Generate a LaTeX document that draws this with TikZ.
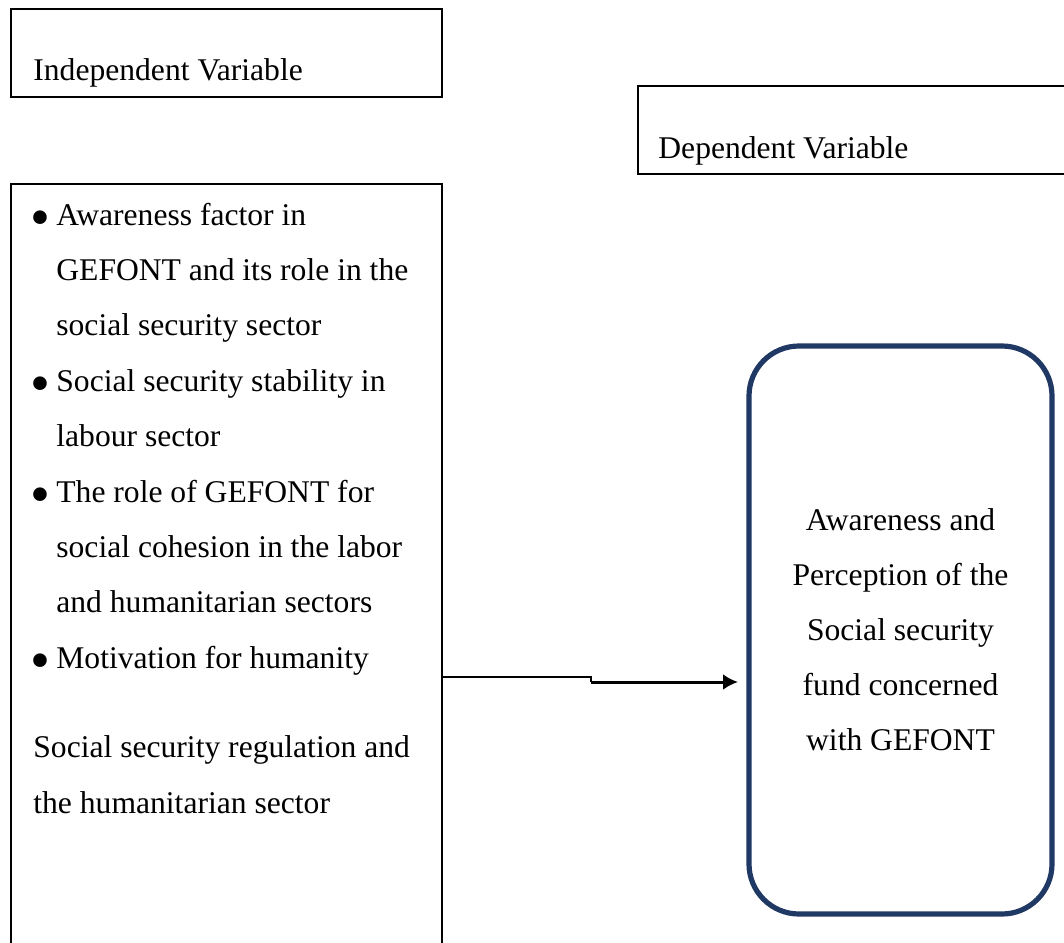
\documentclass[tikz,border=0pt]{standalone}
\usepackage{fontspec}
\setmainfont{Liberation Serif}
\usepackage{tikz}
\usepackage{graphicx}
\usetikzlibrary{positioning}
\usetikzlibrary{arrows.meta}
\definecolor{darkblue}{RGB}{31,56,100}

\begin{document}
\begin{tikzpicture}[x=0.5pt, y=-0.5pt]

	\tikzset{>={Latex[length=7.5pt,width=8pt]}}
	\tikzset{varbox/.style={draw, line width=0.8pt, rectangle, inner sep=0pt}}
	\tikzset{dvbox/.style={draw=darkblue, line width=2.6pt, rounded corners=25pt, inner sep=0pt, align=center, font=\fontsize{15.8pt}{27.5pt}\selectfont}}
	\tikzset{txt/.style={inner sep=0pt, font=\fontsize{15.8pt}{27.7pt}\selectfont}}
	\def\bul{\hspace*{-1.5pt}\raisebox{-5.6pt}{\scalebox{1.8}{\textbullet}}}

	% Rahmen
	\useasboundingbox (0,0) rectangle (1064,942);

	% Kopfboxen
	\node[varbox, minimum width=215.5pt, minimum height=44pt, anchor=north west] (ivhead) at (10,8) {};
	\node[varbox, minimum width=230pt, minimum height=44pt, anchor=north west] (dvhead) at (637,85) {};
	\node[txt, anchor=base west] (ivlabel) at (33,80) {Independent Variable};
	\node[txt, anchor=base west] (dvlabel) at (658,158) {Dependent Variable};

	% unabhaengige Variable
	\node[varbox, minimum width=215.5pt, minimum height=420pt, anchor=north west] (ivbox) at (10,183) {};
	\node[txt, anchor=base west] (ivlist) at (33,225) {%
		\begin{tabular}[t]{@{}p{11.5pt}@{}l@{}}
			\bul & Awareness factor in\\
			     & GEFONT and its role in the\\
			     & social security sector\\
			\bul & Social security stability in\\
			     & labour sector\\
			\bul & The role of GEFONT for\\
			     & social cohesion in the labor\\
			     & and humanitarian sectors\\
			\bul & Motivation for humanity\\[17pt]
			\multicolumn{2}{@{}l@{}}{Social security regulation and}\\
			\multicolumn{2}{@{}l@{}}{the humanitarian sector}
		\end{tabular}};

	% abhaengige Variable
	\node[dvbox, minimum width=151.5pt, minimum height=284pt] (dv) at (900.5,630)
		{Awareness and\\Perception of the\\Social security\\fund concerned\\with GEFONT};

	% Pfeil
	\coordinate (bend) at (591,677);
	\draw[line width=1pt] (ivbox.east |- bend) -- (bend) -- ++(0,5) coordinate (jog);
	\draw[line width=1.5pt, ->, shorten >=4.2pt] (jog) -- (jog -| dv.west);

\end{tikzpicture}
\end{document}
